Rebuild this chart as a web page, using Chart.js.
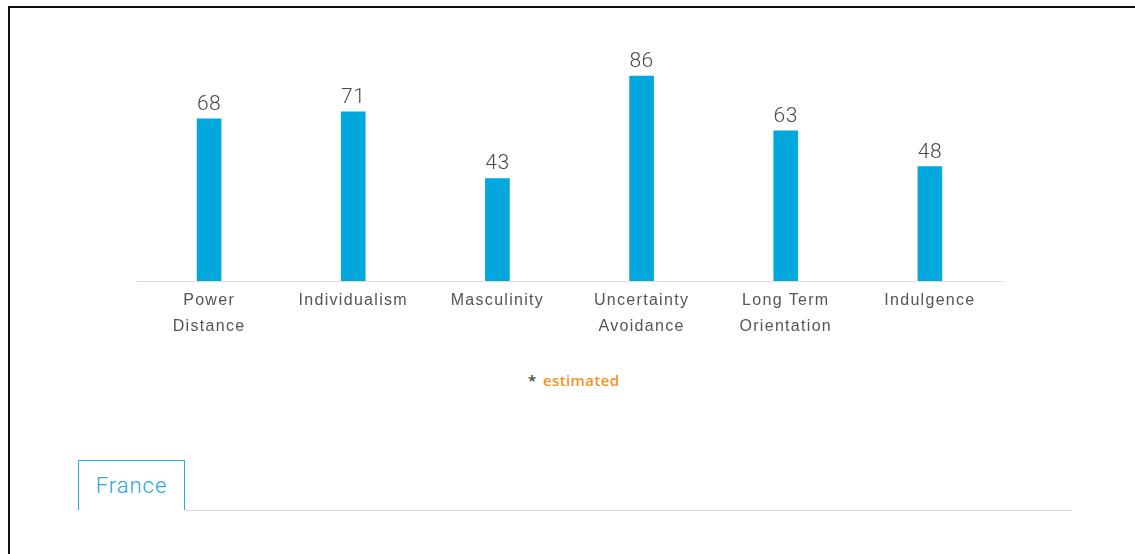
<!DOCTYPE html>
<html>
<head>
<meta charset="utf-8">
<script src="https://cdn.jsdelivr.net/npm/chart.js@4.4.1/dist/chart.umd.min.js"></script>
<style>
  html, body { margin: 0; padding: 0; background: #fff; }
  body { width: 1135px; height: 554px; position: relative; overflow: hidden; font-family: "Liberation Sans", Arial, sans-serif; }
  .frame { position: absolute; left: 8px; top: 6px; right: -10px; bottom: -10px; border-left: 2px solid #111; border-top: 2px solid #111; }
  #wrap { position: absolute; left: 0; top: 0; width: 1135px; height: 350px; }
  .note { position: absolute; left: 528px; top: 370px; font-family: "Open Sans", sans-serif; font-size: 15px; font-weight: 600; letter-spacing: 0.4px; color: #f39224; white-space: nowrap; }
  .note .star { color: #444; margin-right: 2px; }
  .tab { position: absolute; left: 78px; top: 460px; width: 107px; height: 50px; border: 1px solid #1fb0e6; border-bottom: none; background: #fff; box-sizing: border-box; text-align: center; line-height: 50px; font-family: Roboto, sans-serif; font-weight: 300; font-size: 22px; letter-spacing: 1px; color: #2ba5db; }
  .tabline { position: absolute; left: 185px; top: 510px; width: 887px; height: 1px; background: #d9d9d9; }
</style>
</head>
<body>
<div class="frame"></div>
<div id="wrap"><canvas id="chart" width="1135" height="350"></canvas></div>
<div class="note"><span class="star">*</span> estimated</div>
<div class="tabline"></div>
<div class="tab">France</div>
<script>
// Hofstede cultural dimension scores
const dimensions = [
  ['Power', 'Distance'],
  'Individualism',
  'Masculinity',
  ['Uncertainty', 'Avoidance'],
  ['Long Term', 'Orientation'],
  'Indulgence'
];
const scores = [68, 71, 43, 86, 63, 48];

// Slightly tracked-out lettering for the category names
const tracking = {
  id: 'tracking',
  beforeDraw(chart) { chart.ctx.letterSpacing = '1.3px'; },
  afterDatasetsDraw(chart) { chart.ctx.letterSpacing = '0px'; }
};

// Writes each score above its bar
const valueLabels = {
  id: 'valueLabels',
  afterDatasetsDraw(chart) {
    const { ctx } = chart;
    const meta = chart.getDatasetMeta(0);
    ctx.save();
    ctx.letterSpacing = '0.5px';
    ctx.font = '300 21px Roboto, sans-serif';
    ctx.fillStyle = '#4a4a4a';
    ctx.textAlign = 'center';
    ctx.textBaseline = 'alphabetic';
    meta.data.forEach((bar, i) => {
      ctx.fillText(String(chart.data.datasets[0].data[i]), bar.x, bar.y - 9);
    });
    ctx.restore();
  }
};

new Chart(document.getElementById('chart'), {
  type: 'bar',
  data: {
    labels: dimensions,
    datasets: [{
      data: scores,
      backgroundColor: '#02a7dd',
      barThickness: 24
    }]
  },
  options: {
    responsive: false,
    animation: false,
    layout: { padding: { left: 137, right: 133, top: 42.6, bottom: 0 } },
    plugins: { legend: { display: false }, tooltip: { enabled: false } },
    scales: {
      y: { display: false, min: 0, max: 100 },
      x: {
        afterFit(scale) { scale.height = 69; },
        grid: { display: false, drawTicks: false },
        border: { display: true, color: '#dcdcdc', width: 1 },
        ticks: {
          padding: 7,
          color: '#555',
          maxRotation: 0,
          autoSkip: false,
          font: { family: '"Liberation Sans", Arial, sans-serif', size: 16, lineHeight: 1.6 }
        }
      }
    }
  },
  plugins: [tracking, valueLabels]
});
</script>
</body>
</html>
